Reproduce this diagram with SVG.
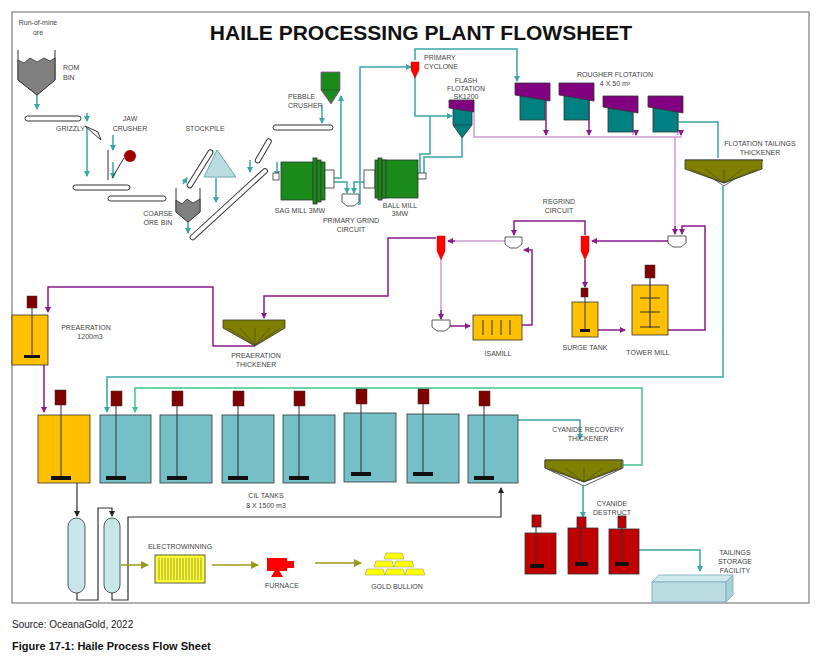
<svg xmlns="http://www.w3.org/2000/svg" width="822" height="665" viewBox="0 0 822 665">
<defs>
<style>
text{font-family:"Liberation Sans",Arial,sans-serif;font-size:7px;fill:#444}
.c{text-anchor:middle}
.t{stroke:#3aa6a6;stroke-width:1.5;fill:none}
.p{stroke:#8a1a8a;stroke-width:1.5;fill:none}
.pl{stroke:#d49ad4;stroke-width:1.5;fill:none}
.g{stroke:#3cc78a;stroke-width:1.5;fill:none}
.k{stroke:#333;stroke-width:1.2;fill:none}
.o{stroke:#9a9a20;stroke-width:1.5;fill:none}
.conv{fill:#fff;stroke:#333;stroke-width:1}
.mill{fill:#1a8a1a;stroke:#333;stroke-width:0.8}
.motor{fill:#800000;stroke:#333;stroke-width:0.5}
.cil{fill:#74c0c6;stroke:#333;stroke-width:0.8}
.yel{fill:#ffc000;stroke:#333;stroke-width:0.8}
.red{fill:#c00000;stroke:#333;stroke-width:0.8}
.purp{fill:#800080;stroke:#333;stroke-width:0.8}
.teal{fill:#008080;stroke:#333;stroke-width:0.8}
.thk{fill:#808000;stroke:#333;stroke-width:0.8}
.pump{fill:#fff;stroke:#333;stroke-width:0.8}
.cyc{fill:#ff0000;stroke:#c00;stroke-width:0.5}
</style>
<marker id="at" markerWidth="6" markerHeight="6" refX="5" refY="3" orient="auto" markerUnits="userSpaceOnUse"><path d="M0,0L6,3L0,6Z" fill="#3aa6a6"/></marker>
<marker id="ap" markerWidth="6" markerHeight="6" refX="5" refY="3" orient="auto" markerUnits="userSpaceOnUse"><path d="M0,0L6,3L0,6Z" fill="#8a1a8a"/></marker>
<marker id="ag" markerWidth="6" markerHeight="6" refX="5" refY="3" orient="auto" markerUnits="userSpaceOnUse"><path d="M0,0L6,3L0,6Z" fill="#3cc78a"/></marker>
<marker id="ak" markerWidth="6" markerHeight="6" refX="5" refY="3" orient="auto" markerUnits="userSpaceOnUse"><path d="M0,0L6,3L0,6Z" fill="#222"/></marker>
<marker id="ao" markerWidth="8" markerHeight="8" refX="7" refY="4" orient="auto" markerUnits="userSpaceOnUse"><path d="M0,0L8,4L0,8Z" fill="#9a9a20"/></marker>
</defs>
<rect x="0" y="0" width="822" height="665" fill="#fff"/>
<rect x="12" y="12" width="797" height="591" fill="none" stroke="#666" stroke-width="1"/>
<text x="421" y="40" class="c" style="font-size:21px;font-weight:bold;fill:#111">HAILE PROCESSING PLANT FLOWSHEET</text>
<text x="12" y="628" style="font-size:10px;fill:#222">Source: OceanaGold, 2022</text>
<text x="12" y="650" style="font-size:11px;font-weight:bold;fill:#111">Figure 17-1: Haile Process Flow Sheet</text>

<g id="connectors">
<path class="t" d="M37,95V109" marker-end="url(#at)"/>
<path class="t" d="M87,113V121" marker-end="url(#at)"/>
<path class="t" d="M87,128V176" marker-end="url(#at)"/>
<path class="t" d="M113,135V150" marker-end="url(#at)"/>
<path class="t" d="M113,162V178" marker-end="url(#at)"/>
<path class="t" d="M183,184L187,178" marker-end="url(#at)"/>
<path class="t" d="M216,178V202" marker-end="url(#at)"/>
<path class="t" d="M188,222V233" marker-end="url(#at)"/>
<path class="t" d="M250,160V172" marker-end="url(#at)"/>
<path class="t" d="M277,162V176" marker-end="url(#at)"/>
<path class="t" d="M322,105V123" marker-end="url(#at)"/>
<path class="t" d="M333,178H341V96" marker-end="url(#at)"/>
<path class="t" d="M333,182H347V193" marker-end="url(#at)"/>
<path class="t" d="M364,182H354V193" marker-end="url(#at)"/>
<path class="t" d="M358,204H360V67H411" marker-end="url(#at)"/>
<path class="t" d="M415,60V49H517V81" marker-end="url(#at)"/>
<path class="t" d="M415,76V116H452" marker-end="url(#at)"/>
<path class="t" d="M430,116V154H420V175"/>
<path class="t" d="M462,138V157H424V175"/>
<path class="t" d="M677,122H718V158"/>
<path class="t" d="M723,186V377H107V412" marker-end="url(#at)"/>
<path class="t" d="M518,420H580V439" marker-end="url(#at)"/>
<path class="t" d="M583,484V517" marker-end="url(#at)"/>
<path class="t" d="M639,550H700V571" marker-end="url(#at)"/>
<path class="g" d="M623,465H642V388H135V412" marker-end="url(#ag)"/>
<path class="pl" d="M474,112V137H682"/>
<path class="p" d="M546,100V135" marker-end="url(#ap)"/>
<path class="p" d="M589,100V135" marker-end="url(#ap)"/>
<path class="pl" d="M633,113V135"/>
<path class="p" d="M636,130V135" marker-end="url(#ap)"/>
<path class="pl" d="M678,113V135"/>
<path class="p" d="M681,130V135" marker-end="url(#ap)"/>
<path class="pl" d="M675,137V234"/>
<path class="p" d="M675,226V234" marker-end="url(#ap)"/>
<path class="p" d="M668,330H705V226H682V234" marker-end="url(#ap)"/>
<path class="p" d="M668,241H592" marker-end="url(#ap)"/>
<path class="p" d="M585,235V221H514V235" marker-end="url(#ap)"/>
<path class="pl" d="M505,241H450"/>
<path class="p" d="M455,241H448" marker-end="url(#ap)"/>
<path class="p" d="M522,325H532V250H524" marker-end="url(#ap)"/>
<path class="pl" d="M441,260V318"/>
<path class="p" d="M441,310V319" marker-end="url(#ap)"/>
<path class="p" d="M450,326H470" marker-end="url(#ap)"/>
<path class="p" d="M436,238H388V296H264V318" marker-end="url(#ap)"/>
<path class="p" d="M585,260V287" marker-end="url(#ap)"/>
<path class="p" d="M598,330H625" marker-end="url(#ap)"/>
<path class="p" d="M255,346H213V287H48V312" marker-end="url(#ap)"/>
<path class="p" d="M44,365V412" marker-end="url(#ap)"/>
<path class="k" d="M77,483V516" marker-end="url(#ak)"/>
<path class="k" d="M77,592V600H98V508H112V516" marker-end="url(#ak)"/>
<path class="k" d="M112,592V600H128V517H501V488" marker-end="url(#ak)"/>
<path class="o" d="M121,565H148" marker-end="url(#ao)"/>
<path class="o" d="M212,565H258" marker-end="url(#ao)"/>
<path class="o" d="M315,563H361" marker-end="url(#ao)"/>
</g>

<g id="rom-bin">
<path d="M18,50V80L37,95L55,80V50" fill="none" stroke="#333"/>
<path d="M18,60L24,63L30,58L37,62L44,58L50,61L55,58V80L37,95L18,80Z" fill="#808080" stroke="#333" stroke-width="0.8"/>
<text x="38" y="25" class="c">Run-of-mine</text><text x="38" y="35" class="c">ore</text>
<text x="63" y="70">ROM</text><text x="63" y="80">BIN</text>
</g>
<g id="conveyors">
<rect x="25" y="116" width="56" height="5" rx="2.5" class="conv"/>
<rect x="73" y="185" width="57" height="5" rx="2.5" class="conv"/>
<rect x="108" y="196" width="58" height="5" rx="2.5" class="conv"/>
<rect x="273" y="125" width="60" height="5" rx="2.5" class="conv"/>
<rect x="-3" y="-2.5" width="44" height="5" rx="2.5" class="conv" transform="translate(190,185) rotate(-58)"/>
<rect x="-3" y="-2.5" width="103" height="5" rx="2.5" class="conv" transform="translate(193,237) rotate(-42.5)"/>
<rect x="-3" y="-2.5" width="27" height="5" rx="2.5" class="conv" transform="translate(258,160) rotate(-60)"/>
</g>
<g id="grizzly">
<path d="M85,126L101,140L98,132Z" fill="#fff" stroke="#333"/>
<text x="56" y="131">GRIZZLY</text>
</g>
<g id="jaw-crusher">
<path d="M108,150V180M112,178L124,158" stroke="#333" fill="none"/>
<circle cx="130" cy="156" r="6" fill="#a00000"/>
<text x="130" y="121" class="c">JAW</text><text x="130" y="131" class="c">CRUSHER</text>
</g>
<g id="coarse-ore-bin">
<path d="M176,188V212L188,222L200,212V188" fill="none" stroke="#333"/>
<path d="M176,200L182,204L187,199L193,203L200,199V212L188,222L176,212Z" fill="#808080" stroke="#333" stroke-width="0.8"/>
<text x="158" y="216" class="c">COARSE</text><text x="158" y="225" class="c">ORE BIN</text>
</g>
<g id="stockpile">
<path d="M217,150L236,177H204Z" fill="#b9dde0" stroke="#6aa" stroke-width="1"/>
<text x="205" y="131" class="c">STOCKPILE</text>
</g>
<g id="pebble-crusher">
<path d="M321,72H340V90L331,104L321,90Z" fill="#1a8a1a" stroke="#a040a0" stroke-width="0.8"/>
<line x1="321" y1="90" x2="340" y2="90" stroke="#333" stroke-width="0.5"/>
<text x="288" y="99">PEBBLE</text><text x="288" y="108">CRUSHER</text>
</g>
<g id="sag-mill">
<rect x="273" y="173" width="6" height="7" fill="#fff" stroke="#333" stroke-width="0.8"/>
<rect x="281" y="162" width="44" height="38" class="mill"/>
<rect x="313" y="158" width="4" height="46" class="mill"/>
<rect x="317" y="160" width="4" height="42" class="mill"/>
<rect x="325" y="170" width="9" height="18" fill="#fff" stroke="#333" stroke-width="0.8"/>
<text x="300" y="213" class="c">SAG MILL 3MW</text>
</g>
<g id="primary-grind">
<path d="M342,194H359V202L354,206H347L342,202Z" class="pump"/>
<text x="351" y="223" class="c">PRIMARY GRIND</text><text x="351" y="232" class="c">CIRCUIT</text>
</g>
<g id="ball-mill">
<rect x="364" y="170" width="11" height="18" fill="#fff" stroke="#333" stroke-width="0.8"/>
<rect x="375" y="160" width="43" height="38" class="mill"/>
<rect x="378" y="158" width="4" height="42" class="mill"/>
<rect x="382" y="160" width="4" height="38" class="mill"/>
<rect x="418" y="173" width="8" height="6" fill="#fff" stroke="#333" stroke-width="0.8"/>
<text x="400" y="208" class="c">BALL MILL</text><text x="400" y="216" class="c">3MW</text>
</g>
<g id="primary-cyclone">
<path d="M411,62H419V70L415,78L411,70Z" class="cyc"/>
<text x="424" y="60">PRIMARY</text><text x="424" y="69">CYCLONE</text>
</g>
<g id="flash-flotation">
<path d="M453,108H472V125L462,138L453,125Z" class="teal"/>
<line x1="453" y1="125" x2="472" y2="125" stroke="#333" stroke-width="0.6"/>
<path d="M449,100H474V112L449,108Z" class="purp"/>
<text x="466" y="83" class="c">FLASH</text><text x="466" y="91" class="c">FLOTATION</text><text x="466" y="99" class="c">SK1200</text>
</g>
<g id="rougher-flotation">
<rect x="520" y="96" width="25" height="24" class="teal"/>
<path d="M515,83H550V101L515,95Z" class="purp"/>
<rect x="564" y="96" width="25" height="24" class="teal"/>
<path d="M559,83H594V101L559,95Z" class="purp"/>
<rect x="608" y="108" width="25" height="24" class="teal"/>
<path d="M603,96H638V113L603,107Z" class="purp"/>
<rect x="653" y="108" width="25" height="24" class="teal"/>
<path d="M648,96H683V113L648,107Z" class="purp"/>
<text x="615" y="77" class="c">ROUGHER FLOTATION</text><text x="615" y="86" class="c">4 X 50 m³</text>
</g>
<g id="flotation-tailings-thickener">
<path d="M685,160H763L724,186Z" fill="#fff" stroke="#333" stroke-width="0.8"/>
<path d="M685,160H762V169L724,183L685,169Z" class="thk"/>
<path d="M690,169L724,183L758,169M705,169L724,183L743,169M724,169V183" stroke="#333" stroke-width="0.5" fill="none"/>
<text x="760" y="146" class="c">FLOTATION TAILINGS</text><text x="760" y="155" class="c">THICKENER</text>
</g>
<g id="regrind-circuit">
<path d="M668,236H686V243L681,247H673L668,243Z" class="pump"/>
<path d="M581,236H589V251L585,260L581,251Z" class="cyc"/>
<path d="M505,237H522V244L517,248H510L505,244Z" class="pump"/>
<path d="M437,236H445V251L441,260L437,251Z" class="cyc"/>
<path d="M432,320H450V327L445,331H437L432,327Z" class="pump"/>
<text x="559" y="204" class="c">REGRIND</text><text x="559" y="213" class="c">CIRCUIT</text>
</g>
<g id="isamill">
<rect x="473" y="315" width="49" height="25" class="yel"/>
<path d="M483,320V335M492,320V335M501,320V335M510,320V335" stroke="#333"/>
<text x="498" y="356" class="c">ISAMILL</text>
</g>
<g id="surge-tank">
<rect x="581" y="288" width="7" height="9" class="motor"/>
<rect x="572" y="302" width="26" height="35" class="yel"/>
<line x1="585" y1="297" x2="585" y2="330" stroke="#333"/>
<rect x="580" y="329" width="10" height="3" fill="#111"/>
<text x="585" y="350" class="c">SURGE TANK</text>
</g>
<g id="tower-mill">
<rect x="645" y="265" width="10" height="13" class="motor"/>
<rect x="632" y="285" width="36" height="50" class="yel"/>
<path d="M650,278V328M640,298H660M640,312H660M640,327H660" stroke="#333" stroke-width="1.2"/>
<text x="648" y="355" class="c">TOWER MILL</text>
</g>
<g id="preaeration-thickener">
<path d="M223,320H285V328L255,346L223,328Z" class="thk"/>
<path d="M228,328L255,345L280,328M240,328L255,345L270,328M255,328V345" stroke="#333" stroke-width="0.5" fill="none"/>
<text x="256" y="358" class="c">PREAERATION</text><text x="256" y="367" class="c">THICKENER</text>
</g>
<g id="preaeration-tank">
<rect x="27" y="296" width="10" height="12" class="motor"/>
<rect x="12" y="315" width="36" height="50" class="yel"/>
<line x1="32" y1="308" x2="32" y2="355" stroke="#333"/>
<rect x="24" y="355" width="16" height="3" fill="#111"/>
<text x="86" y="330" class="c">PREAERATION</text><text x="90" y="339" class="c">1200m3</text>
</g>
<g id="leach-tank">
<rect x="55" y="390" width="11" height="15" class="motor"/>
<rect x="38" y="415" width="52" height="68" class="yel"/>
<line x1="61" y1="405" x2="61" y2="478" stroke="#333"/>
<rect x="51" y="476" width="20" height="4" fill="#111"/>
</g>
<g id="cil-tanks">
<g><rect x="111" y="391" width="11" height="15" class="motor"/><rect x="100" y="415" width="51" height="68" class="cil"/><line x1="116" y1="406" x2="116" y2="478" stroke="#333"/><rect x="106" y="476" width="20" height="4" fill="#111"/></g>
<g><rect x="172" y="391" width="11" height="15" class="motor"/><rect x="160" y="415" width="52" height="68" class="cil"/><line x1="177" y1="406" x2="177" y2="478" stroke="#333"/><rect x="167" y="476" width="20" height="4" fill="#111"/></g>
<g><rect x="233" y="391" width="11" height="15" class="motor"/><rect x="222" y="415" width="52" height="68" class="cil"/><line x1="238" y1="406" x2="238" y2="478" stroke="#333"/><rect x="228" y="476" width="20" height="4" fill="#111"/></g>
<g><rect x="294" y="391" width="11" height="15" class="motor"/><rect x="283" y="415" width="52" height="68" class="cil"/><line x1="299" y1="406" x2="299" y2="478" stroke="#333"/><rect x="289" y="476" width="20" height="4" fill="#111"/></g>
<g><rect x="356" y="389" width="11" height="15" class="motor"/><rect x="344" y="413" width="52" height="69" class="cil"/><line x1="361" y1="404" x2="361" y2="474" stroke="#333"/><rect x="351" y="472" width="20" height="4" fill="#111"/></g>
<g><rect x="418" y="389" width="11" height="15" class="motor"/><rect x="407" y="414" width="52" height="69" class="cil"/><line x1="423" y1="404" x2="423" y2="474" stroke="#333"/><rect x="413" y="472" width="20" height="4" fill="#111"/></g>
<g><rect x="479" y="391" width="11" height="15" class="motor"/><rect x="468" y="415" width="50" height="68" class="cil"/><line x1="484" y1="406" x2="484" y2="478" stroke="#333"/><rect x="474" y="476" width="20" height="4" fill="#111"/></g>
<text x="266" y="498" class="c">CIL TANKS</text><text x="266" y="508" class="c">8 X 1500 m3</text>
</g>
<g id="cyanide-recovery-thickener">
<path d="M545,460H623V468L584,486L545,468Z" fill="#fff" stroke="#333" stroke-width="0.8"/>
<path d="M545,460H622V468L584,482L545,468Z" class="thk"/>
<path d="M550,468L584,482L618,468M565,468L584,482L603,468M584,468V482" stroke="#333" stroke-width="0.5" fill="none"/>
<text x="588" y="432" class="c">CYANIDE RECOVERY</text><text x="588" y="441" class="c">THICKENER</text>
</g>
<g id="cyanide-destruct">
<rect x="532" y="515" width="9" height="12" class="red"/><rect x="525" y="533" width="31" height="41" class="red"/><line x1="536" y1="527" x2="536" y2="566" stroke="#333"/><rect x="530" y="564" width="14" height="4" fill="#111"/>
<rect x="577" y="517" width="9" height="12" class="red"/><rect x="568" y="528" width="30" height="46" class="red"/><line x1="581" y1="529" x2="581" y2="564" stroke="#333"/><rect x="575" y="562" width="13" height="4" fill="#111"/>
<rect x="618" y="516" width="8" height="12" class="red"/><rect x="609" y="529" width="30" height="45" class="red"/><line x1="622" y1="528" x2="622" y2="564" stroke="#333"/><rect x="615" y="562" width="14" height="4" fill="#111"/>
<text x="612" y="506" class="c">CYANIDE</text><text x="612" y="515" class="c">DESTRUCT</text>
</g>
<g id="tailings-storage">
<path d="M652,582L659,575H733L726,582Z" fill="#cfe9ec" stroke="#7ab" stroke-width="0.8"/>
<rect x="652" y="582" width="74" height="20" fill="#b9dde0" stroke="#7ab" stroke-width="0.8"/>
<path d="M726,582L733,575V595L726,602Z" fill="#a6d0d4" stroke="#7ab" stroke-width="0.8"/>
<text x="735" y="555" class="c">TAILINGS</text><text x="735" y="564" class="c">STORAGE</text><text x="735" y="573" class="c">FACILITY</text>
</g>
<g id="columns">
<rect x="68" y="518" width="17" height="75" rx="8.5" fill="#c6e6ea" stroke="#333" stroke-width="0.8"/>
<rect x="104" y="518" width="16" height="75" rx="8" fill="#c6e6ea" stroke="#333" stroke-width="0.8"/>
</g>
<g id="electrowinning">
<rect x="155" y="555" width="50" height="28" fill="#ffff33" stroke="#333" stroke-width="0.8"/>
<path d="M159,558V580M162,558V580M165,558V580M168,558V580M171,558V580M174,558V580M177,558V580M180,558V580M183,558V580M186,558V580M189,558V580M192,558V580M195,558V580M198,558V580M201,558V580" stroke="#333" stroke-width="0.5"/>
<text x="180" y="549" class="c">ELECTROWINNING</text>
</g>
<g id="furnace">
<rect x="267" y="558" width="20" height="13" fill="#ff0000"/>
<path d="M287,561H294V568H287Z" fill="#ff0000"/>
<path d="M277,567L271,577H283Z" fill="#ff0000"/>
<text x="282" y="588" class="c">FURNACE</text>
</g>
<g id="gold-bullion">
<path d="M386,553H402L404,559H384Z" fill="#ffff00" stroke="#886" stroke-width="0.5"/>
<path d="M376,561H392L394,567H374Z M396,561H412L414,567H394Z" fill="#ffff00" stroke="#886" stroke-width="0.5"/>
<path d="M367,569H383L385,575H365Z M387,569H403L405,575H385Z M407,569H423L425,575H405Z" fill="#ffff00" stroke="#886" stroke-width="0.5"/>
<text x="397" y="589" class="c">GOLD BULLION</text>
</g>
</svg>
